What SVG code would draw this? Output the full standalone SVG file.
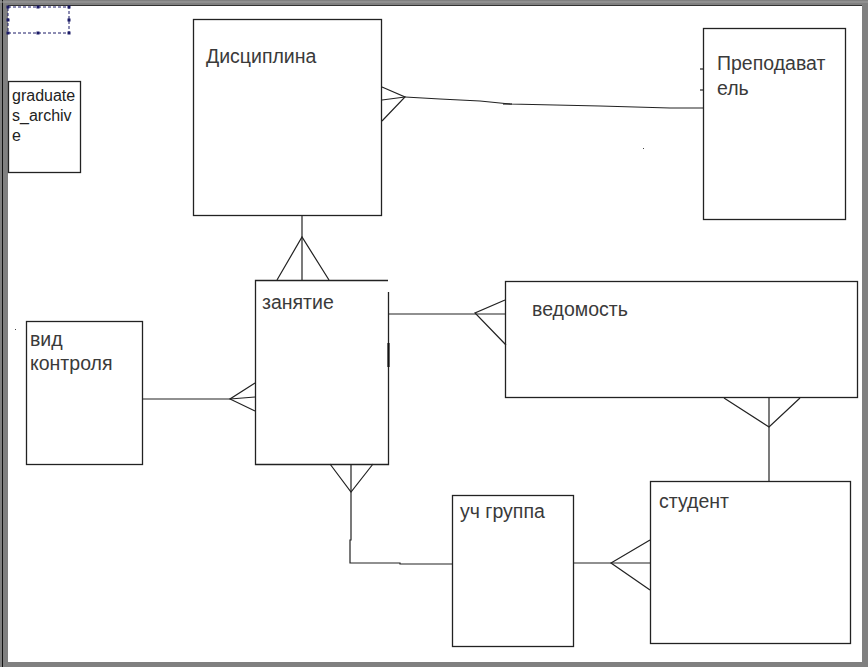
<svg xmlns="http://www.w3.org/2000/svg" width="868" height="667" viewBox="0 0 868 667">
<style>
.box{fill:#fff;stroke:#222;stroke-width:1.3}
.lbl{font-family:"Liberation Sans",Arial,sans-serif;font-size:19.5px;fill:#3a3a3a}
.small{font-family:"Liberation Sans",Arial,sans-serif;font-size:16px;fill:#222}
.conn line,.conn polyline{stroke:#222;stroke-width:1.2;fill:none}
.h{fill:#1a1a66}
</style>
<rect x="0" y="0" width="868" height="667" fill="#fff"/>
<g id="frame">
<rect x="0" y="0" width="868" height="6" fill="#808080"/>
<rect x="0" y="0" width="8" height="667" fill="#808080"/>
<rect x="862" y="0" width="6" height="667" fill="#808080"/>
<rect x="0" y="662" width="868" height="5" fill="#808080"/>
<line x1="2.5" y1="0" x2="2.5" y2="667" stroke="#111" stroke-width="1"/>
<line x1="0" y1="2" x2="868" y2="2" stroke="#a0a0a0" stroke-width="1"/>
<line x1="8" y1="5.5" x2="862" y2="5.5" stroke="#333" stroke-width="1"/>
</g>
<g id="selection">
<rect x="8" y="7" width="61" height="26" fill="none" stroke="#1a1a66" stroke-width="1" stroke-dasharray="3,2"/>
<rect class="h" x="6.5" y="5.5" width="3" height="3"/>
<rect class="h" x="36.5" y="5.5" width="3" height="3"/>
<rect class="h" x="67.5" y="5.5" width="3" height="3"/>
<rect class="h" x="6.5" y="18.5" width="3" height="3"/>
<rect class="h" x="67.5" y="18.5" width="3" height="3"/>
<rect class="h" x="6.5" y="31.5" width="3" height="3"/>
<rect class="h" x="36.5" y="31.5" width="3" height="3"/>
<rect class="h" x="67.5" y="31.5" width="3" height="3"/>
</g>
<g id="graduates_archive">
<rect class="box" x="8.5" y="81.5" width="72" height="91"/>
<text class="small" x="12" y="101">graduate</text>
<text class="small" x="12" y="121">s_archiv</text>
<text class="small" x="12" y="141">e</text>
</g>
<g id="disciplina">
<rect class="box" x="193.5" y="19.5" width="188" height="196"/>
<text class="lbl" x="206" y="63">Дисциплина</text>
</g>
<g id="prepodavatel">
<rect class="box" x="703.5" y="28.5" width="142" height="191"/>
<text class="lbl" x="717" y="70">Преподават</text>
<text class="lbl" x="717" y="95">ель</text>
</g>
<g id="zanyatie">
<path d="M388.5 292 V464.5 H255.5 V280.5 H388" fill="#fff" stroke="#222" stroke-width="1.3"/>
<line x1="388.5" y1="343" x2="388.5" y2="367" stroke="#111" stroke-width="2.2"/>
<text class="lbl" x="262" y="309">занятие</text>
</g>
<g id="vedomost">
<rect class="box" x="505.5" y="281.5" width="352" height="116"/>
<text class="lbl" x="532" y="316">ведомость</text>
</g>
<g id="vid_kontrolya">
<rect class="box" x="26.5" y="321.5" width="116" height="143"/>
<text class="lbl" x="30" y="346">вид</text>
<text class="lbl" x="30" y="370">контроля</text>
</g>
<g id="uch_gruppa">
<rect class="box" x="452.5" y="495.5" width="121" height="151"/>
<text class="lbl" x="460" y="518">уч группа</text>
</g>
<g id="student">
<rect class="box" x="650.5" y="481.5" width="200" height="162"/>
<text class="lbl" x="659" y="508">студент</text>
</g>
<g id="connectors" class="conn">
<polyline points="382,87 405,97 382,121"/>
<line x1="382" y1="100" x2="405" y2="97"/>
<polyline points="405,97 440,99 480,101 510,104 600,106 670,108 703,108"/>
<line x1="503" y1="104" x2="512" y2="104" stroke-width="2"/>
<line x1="700" y1="69" x2="703" y2="69"/>
<line x1="700" y1="90" x2="703" y2="90"/>
<line x1="302" y1="216" x2="302" y2="280"/>
<polyline points="277,280 302,237 329,280"/>
<line x1="389" y1="314" x2="505" y2="314"/>
<polyline points="505,300 475,313 506,345"/>
<line x1="142" y1="399" x2="230" y2="399"/>
<polyline points="255,383 230,399 255,411"/>
<line x1="230" y1="399" x2="255" y2="397"/>
<line x1="769" y1="398" x2="769" y2="481"/>
<polyline points="724,398 769,427 800,398"/>
<polyline points="351,464 351,540 350,540 350,563 400,563 400,564 452,564"/>
<polyline points="330,464 351,492 373,464"/>
<line x1="573" y1="563" x2="650" y2="563"/>
<polyline points="650,540 611,563 650,590"/>
</g>
<g id="dots">
<rect x="15" y="329" width="1" height="1" fill="#444"/>
<rect x="643" y="148" width="1" height="1" fill="#444"/>
</g>
</svg>
